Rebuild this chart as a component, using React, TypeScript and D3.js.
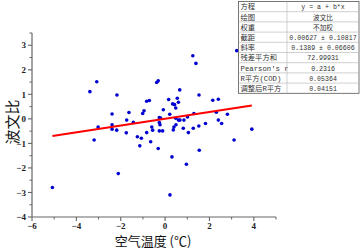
import React from "react";
import * as d3 from "d3";

const xs = [
  -5.08, -3.39, -3.08, -3.2, -3.02, -2.17, -2.39, -2.39, -2.39, -2.18, -2.11, -1.63, -1.73, -1.75, -1.43,
  -1.25, -1.14, -0.95, -1.01, -0.83, -0.71, -0.83, -1.07, -0.65, -0.31, -0.26, -0.11, -0.6, -0.56, -0.26,
  -0.23, 0.31, 0.22, 0.4, 0.49, 0.37, 0.82, 1.05, 1.27, 1.52, 1.54, 0.96, 1.25, 1.39, -0.38, -0.31,
  0.66, 0.55, 0.6, 0.16, 0.34, 0.43, -0.08, 0.21, 1.3, 1.53, -0.26, -0.2, 0.48, 0.6, 0.67, 0.85,
  0.48, 1.01, 1.82, 2.31, 2.4, 2.55, 2.81, 3.11, 3.91, 2.15, 2.4, 3.23,
];
const ys = [
  -2.8, 1.11, 1.51, -0.86, -0.33, 0.97, 0.2, -0.24, -0.42, -0.46, -2.23, 0.26, -0.05, -0.57, -0.14,
  -0.73, -1.1, 0.33, 0.22, 0.72, 0.75, -0.56, -0.79, -0.93, -1.21, -0.49, -0.49, -0.33, -0.46, -0.15,
  -0.24, -1.55, -3.1, -0.33, -0.24, -0.45, -0.38, -0.56, -0.38, -0.29, -1.28, -1.85, 2.57, 2.26, 1.48, 1.55,
  1.18, 0.84, 0.68, 0.79, 0.61, 0.58, 0.37, 0.19, 0.22, 0.97, 0.05, 0.03, 0.03, -0.05, -0.05, -0.05,
  0.44, 0.08, -0.19, 0.27, -0.05, -0.19, 0.19, -0.86, -0.42, 0.76, 0.8, 2.78,
];

const intercept = 0.00627;
const slope = 0.1389;

const xTicks = [-6, -4, -2, 0, 2, 4];
const xMinor = [-5, -3, -1, 1, 3, 5];
const yTicks = [-4, -3, -2, -1, 0, 1, 2, 3];
const yMinor = [-3.5, -2.5, -1.5, -0.5, 0.5, 1.5, 2.5, 3.5];

const tableLabels = ["方程", "绘图", "权重", "截距", "斜率", "残差平方和", "Pearson's r", "R平方(COD)", "调整后R平方"];
const tableValues = ["y = a + b*x", "波文比", "不加权", "0.00627 ± 0.10817", "0.1389 ± 0.06606", "72.99931", "0.2316", "0.05364", "0.04151"];

const xLabel = "空气温度 (℃)";
const yLabel = "波文比";

export default function App() {
  const W = 360, H = 250;
  const x = d3.scaleLinear().domain([-6, 5]).range([32, 276]);
  const y = d3.scaleLinear().domain([-4, 3.5]).range([217, 33]);
  const fmt = (v: number) => (v < 0 ? "\u2212" + Math.abs(v) : String(v));
  const x0 = d3.min(xs)!, x1 = d3.max(xs)!;
  const line = d3.line<number>().x((d) => x(d)).y((d) => y(intercept + slope * d));
  const axisColor = "#666";
  const tickFont = "'Liberation Serif', serif";
  const tX = 238.5, tW = 120.5, tY = 1.5, rowH = 10.2, colX = 287;
  const cellFont = "'Liberation Mono', 'Noto Sans CJK SC', monospace";
  return (
    <div style={{ position: "absolute", left: 0, top: 0 }}>
      <svg width={W} height={H} style={{ display: "block", background: "#fff" }}>
        {/* axes */}
        <line x1={x(-6)} x2={x(5)} y1={y(-4)} y2={y(-4)} stroke={axisColor} strokeWidth={1.2} />
        <line x1={x(-6)} x2={x(-6)} y1={y(-4)} y2={y(3.5)} stroke={axisColor} strokeWidth={1.2} />
        {xTicks.map((t) => (
          <g key={"xt" + t}>
            <line x1={x(t)} x2={x(t)} y1={y(-4)} y2={y(-4) + 4} stroke={axisColor} strokeWidth={1.1} />
            <text x={x(t)} y={y(-4) + 12} textAnchor="middle" fontFamily={tickFont} fontWeight="bold" fontSize={9} fill="#222">
              {fmt(t)}
            </text>
          </g>
        ))}
        {xMinor.map((t) => (
          <line key={"xm" + t} x1={x(t)} x2={x(t)} y1={y(-4)} y2={y(-4) + 2.5} stroke={axisColor} strokeWidth={1} />
        ))}
        {yTicks.map((t) => (
          <g key={"yt" + t}>
            <line x1={x(-6) - 4} x2={x(-6)} y1={y(t)} y2={y(t)} stroke={axisColor} strokeWidth={1.1} />
            <text x={x(-6) - 6} y={y(t) + 3.2} textAnchor="end" fontFamily={tickFont} fontWeight="bold" fontSize={9} fill="#222">
              {fmt(t)}
            </text>
          </g>
        ))}
        {yMinor.map((t) => (
          <line key={"ym" + t} x1={x(-6) - 2.5} x2={x(-6)} y1={y(t)} y2={y(t)} stroke={axisColor} strokeWidth={1} />
        ))}
        {/* points */}
        {xs.map((v, i) => (
          <circle key={"p" + i} cx={x(v)} cy={y(ys[i])} r={1.8} fill="#0000d0" />
        ))}
        {/* fit line */}
        <path d={line([x0, x1]) || ""} stroke="#ff0000" strokeWidth={2} fill="none" />
        {/* axis labels */}
        <text x={153} y={245.5} textAnchor="middle" fontFamily="'Noto Sans CJK SC', sans-serif" fontSize={13} fill="#111">
          {xLabel}
        </text>
        <text transform={`translate(17.5,122) rotate(-90)`} textAnchor="middle" fontFamily="'Noto Sans CJK SC', sans-serif" fontSize={15} fill="#111">
          {yLabel}
        </text>
        {/* table */}
        <rect x={tX} y={tY} width={tW} height={rowH * tableLabels.length} fill="#fff" stroke="#555" strokeWidth={0.8} />
        {tableLabels.map((lab, i) => (
          <g key={"r" + i}>
            {i > 0 && (
              <line x1={tX} x2={tX + tW} y1={tY + i * rowH} y2={tY + i * rowH} stroke="#bbb" strokeWidth={0.7} />
            )}
            <text x={tX + 2} y={tY + i * rowH + 7.8} fontFamily={cellFont} fontSize={7.3} fill="#333">
              {lab}
            </text>
            <text x={(colX + tX + tW) / 2} y={tY + i * rowH + 7.8} textAnchor="middle" fontFamily={cellFont} fontSize={6.6} fill="#333">
              {tableValues[i]}
            </text>
          </g>
        ))}
        <line x1={colX} x2={colX} y1={tY} y2={tY + rowH * tableLabels.length} stroke="#bbb" strokeWidth={0.7} />
      </svg>
    </div>
  );
}
